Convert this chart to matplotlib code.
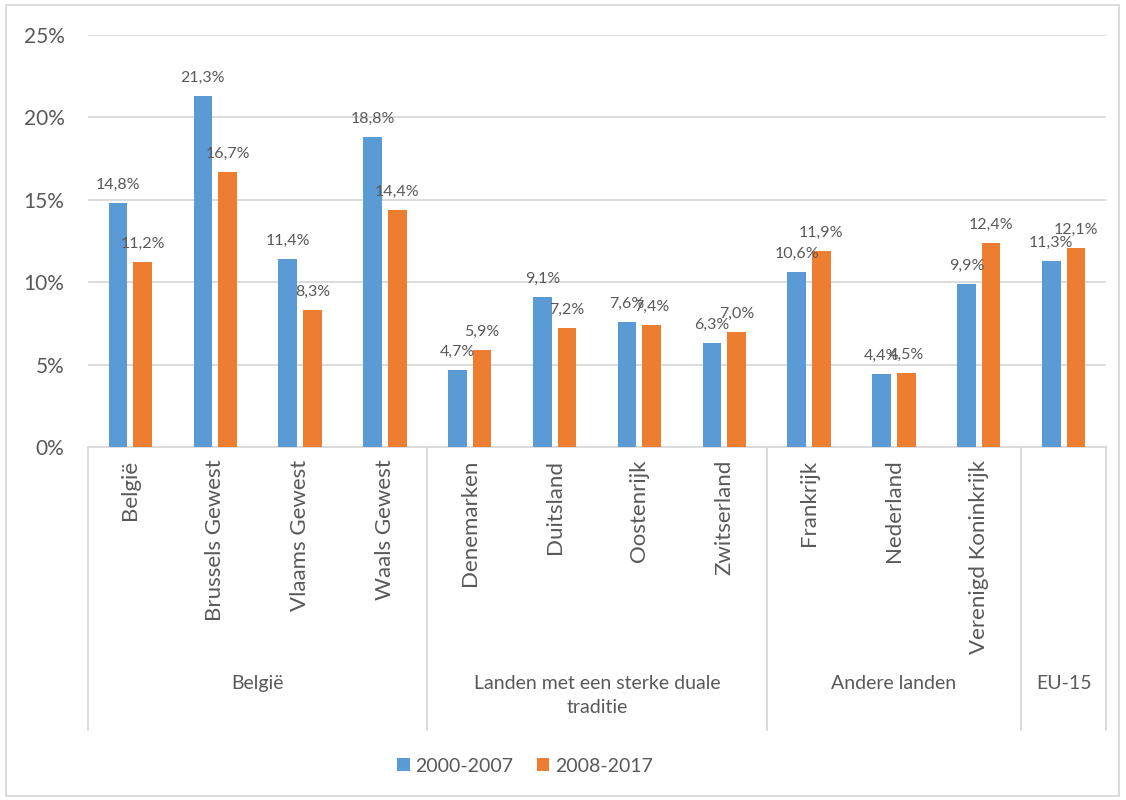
import numpy as np
import matplotlib
matplotlib.use('Agg')
import matplotlib.pyplot as plt
import matplotlib.transforms as mtransforms
from matplotlib.patches import Rectangle

plt.rcParams['font.family'] = ['Lato', 'DejaVu Sans']

categories = ['België', 'Brussels Gewest', 'Vlaams Gewest', 'Waals Gewest',
              'Denemarken', 'Duitsland', 'Oostenrijk', 'Zwitserland',
              'Frankrijk', 'Nederland', 'Verenigd Koninkrijk', '']
groups = ['België', 'Landen met een sterke duale\ntraditie', 'Andere landen', 'EU-15']
group_sizes = [4, 4, 3, 1]
series_names = ['2000-2007', '2008-2017']
v2000 = [14.8, 21.3, 11.4, 18.8, 4.7, 9.1, 7.6, 6.3, 10.6, 4.4, 9.9, 11.3]
v2008 = [11.2, 16.7, 8.3, 14.4, 5.9, 7.2, 7.4, 7.0, 11.9, 4.5, 12.4, 12.1]

blue = '#5B9BD5'
orange = '#ED7D31'
grey = '#595959'
lgrey = '#D9D9D9'

fig = plt.figure(figsize=(11.26, 8), dpi=100)
ax = fig.add_axes([88/1126, 1-447/800, (1106-88)/1126, (447-35)/800])

x = np.arange(len(categories))
w = 0.22
b1 = ax.bar(x - 0.145, v2000, w, color=blue, label=series_names[0], zorder=3)
b2 = ax.bar(x + 0.145, v2008, w, color=orange, label=series_names[1], zorder=3)

fmt = lambda v: f'{v:.1f}%'.replace('.', ',')
for bars, vals in [(b1, v2000), (b2, v2008)]:
    for r, v in zip(bars, vals):
        ax.annotate(fmt(v), (r.get_x() + r.get_width()/2, v), xytext=(0, 8),
                    textcoords='offset points', ha='center', va='bottom',
                    fontsize=11.5, color=grey, zorder=4)

ax.set_xlim(-0.5, len(categories) - 0.5)
ax.set_ylim(0, 25)
ax.set_yticks(np.arange(0, 26, 5))
ax.set_yticklabels([f'{t}%' for t in range(0, 26, 5)])
ax.yaxis.grid(True, color=lgrey, linewidth=1.3, zorder=0)
ax.set_axisbelow(True)
for s in ['left', 'right', 'top']:
    ax.spines[s].set_visible(False)
ax.spines['bottom'].set_color(lgrey)
ax.spines['bottom'].set_linewidth(1.3)
ax.tick_params(axis='y', length=0, pad=17, labelsize=15, labelcolor=grey)
ax.set_xticks(x)
ax.set_xticklabels(categories, rotation=90, va='top')
ax.tick_params(axis='x', length=0, pad=9, labelsize=16, labelcolor=grey)

# group separators and labels below the axis
trans = mtransforms.blended_transform_factory(ax.transData, ax.transAxes)
y_bot = -(730 - 447) / 412
bounds = np.concatenate([[0], np.cumsum(group_sizes)]) - 0.5
for b in bounds:
    ax.plot([b, b], [0, y_bot], transform=trans, color=lgrey, lw=1.3, clip_on=False)
y_lab = -(675 - 447) / 412
for g, lo, hi in zip(groups, bounds[:-1], bounds[1:]):
    ax.text((lo + hi) / 2, y_lab, g, transform=trans, ha='center', va='top',
            fontsize=14, color=grey, linespacing=1.5)

fig.legend(handles=[b1, b2], loc='center', bbox_to_anchor=(525/1126, 1-766/800),
           ncol=2, frameon=False, fontsize=14, labelcolor=grey,
           handlelength=0.65, handleheight=0.65, handletextpad=0.3, columnspacing=1.2)

fig.patches.append(Rectangle((6/1126, 4/800), 1113/1126, 791/800, transform=fig.transFigure,
                             fill=False, edgecolor=lgrey, linewidth=1.3))

fig.savefig('out.png', dpi=100)
